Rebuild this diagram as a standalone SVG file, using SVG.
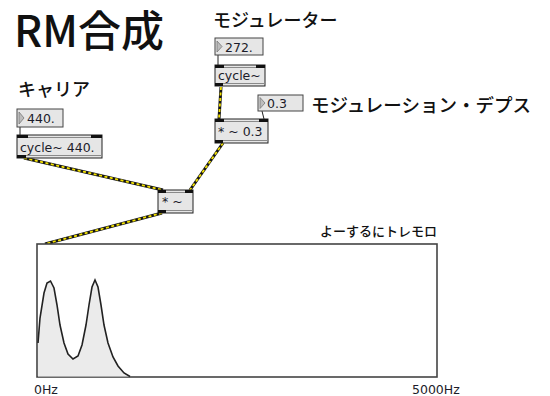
<svg xmlns="http://www.w3.org/2000/svg" width="550" height="396" viewBox="0 0 550 396">
<style>
.jp{font-family:"Noto Sans CJK JP","DejaVu Sans",sans-serif;fill:#111;font-weight:500}
.bt{font-family:"DejaVu Sans","Liberation Sans",sans-serif;font-size:12.5px;fill:#1c1c2a}
.obj{fill:#e6e6e6;stroke:#222;stroke-width:1}
.num{fill:#e6e6e6;stroke:#444;stroke-width:1}
.tri{fill:#bdbdbd;stroke:#777;stroke-width:0.8}
.io{fill:#111}
.inner{stroke:#8a8a8a;stroke-width:1}
.ctl{stroke:#222;stroke-width:1;fill:none}
.sigb{stroke:#151515;stroke-width:3;fill:none}
.sigy{stroke:#f2e000;stroke-width:1.8;fill:none;stroke-dasharray:3 2.5}
</style>
<rect width="550" height="396" fill="#fff"/>

<g id="title"><text class="jp" x="14" y="47" font-size="43" font-weight="bold">RM合成</text></g>
<g id="label-mod"><text class="jp" x="213" y="27" font-size="18">モジュレーター</text></g>
<g id="label-carrier"><text class="jp" x="18" y="96" font-size="18">キャリア</text></g>
<g id="label-depth"><text class="jp" x="311" y="112" font-size="18.5">モジュレーション・デプス</text></g>

<g id="connectors">
  <line class="ctl" x1="218" y1="55" x2="218" y2="65"/>
  <line class="ctl" x1="20" y1="127" x2="20" y2="135"/>
  <line class="ctl" x1="262" y1="111" x2="264" y2="119"/>
  <path class="sigb" d="M221,87 L219,119"/>
  <path class="sigy" d="M221,87 L219,119"/>
  <path class="sigb" d="M223,143 L190,190"/>
  <path class="sigy" d="M223,143 L190,190"/>
  <path class="sigb" d="M24,158 L163,190"/>
  <path class="sigy" d="M24,158 L163,190"/>
  <path class="sigb" d="M162,213 L45,244"/>
  <path class="sigy" d="M162,213 L45,244"/>
</g>

<g id="num-272">
  <rect class="num" x="215" y="38" width="48" height="17"/>
  <polygon class="tri" points="217,41 222,46.5 217,52"/>
  <text class="bt" x="225" y="51.5">272.</text>
</g>
<g id="cycle-mod">
  <rect class="obj" x="215" y="65" width="50" height="21"/>
  <line class="inner" x1="215" y1="67.5" x2="265" y2="67.5"/>
  <line class="inner" x1="215" y1="83.5" x2="265" y2="83.5"/>
  <rect class="io" x="215" y="65" width="9" height="3"/>
  <rect class="io" x="256" y="65" width="9" height="3"/>
  <rect class="io" x="215" y="83" width="8" height="3"/>
  <text class="bt" x="218" y="80">cycle~</text>
</g>
<g id="num-03">
  <rect class="num" x="258" y="95" width="45" height="16"/>
  <polygon class="tri" points="260,97.5 265,103 260,108.5"/>
  <text class="bt" x="267" y="107.5">0.3</text>
</g>
<g id="mul-03">
  <rect class="obj" x="215" y="119" width="53" height="24"/>
  <line class="inner" x1="215" y1="121.5" x2="268" y2="121.5"/>
  <line class="inner" x1="215" y1="140.5" x2="268" y2="140.5"/>
  <rect class="io" x="215" y="119" width="9" height="3"/>
  <rect class="io" x="259" y="119" width="9" height="3"/>
  <rect class="io" x="215" y="140" width="8" height="3"/>
  <text class="bt" x="218" y="136">* ~ 0.3</text>
</g>
<g id="num-440">
  <rect class="num" x="17" y="109" width="46" height="18"/>
  <polygon class="tri" points="19,112 24,118 19,124"/>
  <text class="bt" x="27" y="122.5">440.</text>
</g>
<g id="cycle-440">
  <rect class="obj" x="17" y="135" width="85" height="23"/>
  <line class="inner" x1="17" y1="137.5" x2="102" y2="137.5"/>
  <line class="inner" x1="17" y1="155.5" x2="102" y2="155.5"/>
  <rect class="io" x="17" y="135" width="11" height="3"/>
  <rect class="io" x="91" y="135" width="11" height="3"/>
  <rect class="io" x="17" y="155" width="9" height="3"/>
  <text class="bt" x="20" y="152">cycle~ 440.</text>
</g>
<g id="mul">
  <rect class="obj" x="158" y="190" width="35" height="23"/>
  <line class="inner" x1="158" y1="192.5" x2="193" y2="192.5"/>
  <line class="inner" x1="158" y1="210.5" x2="193" y2="210.5"/>
  <rect class="io" x="158" y="190" width="8" height="3"/>
  <rect class="io" x="185" y="190" width="8" height="3"/>
  <rect class="io" x="158" y="210" width="8" height="3"/>
  <text class="bt" x="162" y="206" font-size="11">* ~</text>
</g>

<g id="spectrum">
  <text class="jp" x="437" y="236" font-size="13" text-anchor="end">よーするにトレモロ</text>
  <rect x="37" y="244" width="400" height="133" fill="#fff" stroke="#444" stroke-width="1.6"/>
  <path d="M38,343 L40,318 L44,293 L47,283 L50.5,281 L54,288 L57,305 L60,325 L64,343 L68,354 L73,359 L78,356 L82,345 L86,325 L89,305 L92,287 L95,280 L98,287 L101,305 L104,325 L108,343 L113,357 L118,366 L124,373 L130,376.5 L38,376.5 Z" fill="#ebebeb" stroke="none"/>
  <path d="M38,343 L40,318 L44,293 L47,283 L50.5,281 L54,288 L57,305 L60,325 L64,343 L68,354 L73,359 L78,356 L82,345 L86,325 L89,305 L92,287 L95,280 L98,287 L101,305 L104,325 L108,343 L113,357 L118,366 L124,373 L130,376.5" fill="none" stroke="#222" stroke-width="1.6"/>
  <text class="bt" x="34" y="394">0Hz</text>
  <text class="bt" x="412" y="394">5000Hz</text>
</g>
</svg>
